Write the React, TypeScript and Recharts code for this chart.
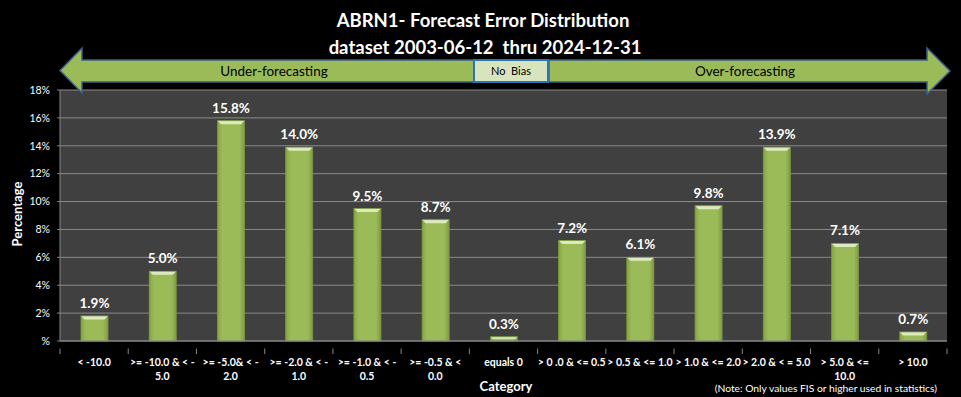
import React from 'react';
import { BarChart, Bar, XAxis, YAxis, CartesianGrid, LabelList } from 'recharts';

const categories = [
  '< -10.0',
  '>= -10.0 & < -\n5.0',
  '>= -5.0& < -\n2.0',
  '>= -2.0 & < -\n1.0',
  '>= -1.0 & < -\n0.5',
  '>= -0.5 & <\n0.0',
  'equals 0',
  '> 0 .0 & <= 0.5',
  '> 0.5 & <= 1.0',
  '> 1.0 & <= 2.0',
  '> 2.0 & < = 5.0',
  '> 5.0 & <=\n10.0',
  '> 10.0',
];
const values = [1.8, 5.0, 15.8, 13.9, 9.5, 8.7, 0.3, 7.2, 6.0, 9.7, 13.9, 7.0, 0.65];
const valueLabels = ['1.9%', '5.0%', '15.8%', '14.0%', '9.5%', '8.7%', '0.3%', '7.2%', '6.1%', '9.8%', '13.9%', '7.1%', '0.7%'];
const yTicks = [0, 2, 4, 6, 8, 10, 12, 14, 16, 18];

const data = categories.map((name, i) => ({ name, value: values[i], label: valueLabels[i] }));

const FONT = 'Lato, "Open Sans", sans-serif';
const BAND = 887 / categories.length;

const BevelBar = (props: any) => {
  const { x, y, width, height } = props;
  if (!height || height <= 0) return null;
  const b = Math.min(3.5, height / 2);
  return (
    <g>
      <rect x={x} y={y} width={width} height={height} fill="url(#barGrad)" />
      <polygon
        points={`${x},${y} ${x + width},${y} ${x + width - b},${y + b} ${x + b},${y + b}`}
        fill="#dde9c0"
      />
      <rect x={x} y={y} width={width} height={height} fill="none" stroke="#7c9a3e" strokeWidth={0.8} />
    </g>
  );
};

const CatTick = (props: any) => {
  const { x, y, payload, index } = props;
  const lines = String(payload.value).split('\n');
  const left = x - BAND / 2;
  return (
    <g>
      <line x1={left} y1={y - 0.5} x2={left} y2={y + 5} stroke="#868686" strokeWidth={1} />
      {index === categories.length - 1 && (
        <line x1={x + BAND / 2} y1={y - 0.5} x2={x + BAND / 2} y2={y + 5} stroke="#868686" strokeWidth={1} />
      )}
      {lines.map((l, i) => (
        <text
          key={i}
          x={x}
          y={y + 17 + i * 13.5}
          textAnchor="middle"
          fill="#ffffff"
          fontSize={10.5}
          fontWeight="bold"
          fontFamily={FONT}
          style={{ whiteSpace: 'pre' }}
        >
          {l}
        </text>
      ))}
    </g>
  );
};

export default function App() {
  return (
    <div
      style={{
        position: 'absolute',
        left: 0,
        top: 0,
        width: 961,
        height: 397,
        background: '#000000',
        overflow: 'hidden',
      }}
    >
      <BarChart
        width={961}
        height={397}
        data={data}
        margin={{ top: 90, right: 14, bottom: 0, left: 0 }}
        style={{ fontFamily: FONT }}
      >
        <CartesianGrid vertical={false} fill="#404040" stroke="#8a8a8a" strokeWidth={1} />
        <YAxis
          width={60}
          domain={[0, 18]}
          ticks={yTicks}
          tickFormatter={(v: number) => (v === 0 ? '%' : `${v}%`)}
          axisLine={{ stroke: '#868686' }}
          tickLine={{ stroke: '#868686' }}
          tickSize={3}
          tickMargin={7}
          tick={{ fill: '#ffffff', fontSize: 10.5, fontFamily: FONT }}
        />
        <XAxis
          dataKey="name"
          height={56}
          interval={0}
          axisLine={{ stroke: '#868686' }}
          tickLine={false}
          tick={<CatTick />}
        />
        <Bar dataKey="value" barSize={27} shape={<BevelBar />} isAnimationActive={false}>
          <LabelList
            dataKey="label"
            position="top"
            offset={8}
            fill="#ffffff"
            fontSize={13.5}
            fontWeight="bold"
            fontFamily={FONT}
          />
        </Bar>
      </BarChart>
      <svg
        width={961}
        height={397}
        style={{ position: 'absolute', left: 0, top: 0, pointerEvents: 'none' }}
      >
        <defs>
          <linearGradient id="barGrad" x1="0" y1="0" x2="1" y2="0">
            <stop offset="0%" stopColor="#86a646" />
            <stop offset="18%" stopColor="#9bbb59" />
            <stop offset="82%" stopColor="#9bbb59" />
            <stop offset="100%" stopColor="#7e9c40" />
          </linearGradient>
        </defs>
        <text x={483} y={27} textAnchor="middle" fill="#ffffff" fontSize={18.5} fontWeight="bold" fontFamily={FONT} style={{ whiteSpace: 'pre' }}>
          ABRN1- Forecast Error Distribution
        </text>
        <text x={485} y={54} textAnchor="middle" fill="#ffffff" fontSize={18.5} fontWeight="bold" fontFamily={FONT} style={{ whiteSpace: 'pre' }}>
          dataset 2003-06-12  thru 2024-12-31
        </text>
        <polygon
          points="60,70.5 82,48 82,60 474,60 474,82 82,82 82,93"
          fill="#9bbb59"
          stroke="#3a5f8b"
          strokeWidth={1.5}
          strokeLinejoin="miter"
        />
        <polygon
          points="549,60 927,60 927,48 950,71 927,94 927,82 549,82"
          fill="#9bbb59"
          stroke="#3a5f8b"
          strokeWidth={1.5}
        />
        <rect x={474} y={60} width={74} height={22} fill="#d7e4bd" stroke="#2a74b8" strokeWidth={2} />
        <text x={274} y={76} textAnchor="middle" fill="#000000" fontSize={13.5} fontFamily={FONT}>
          Under-forecasting
        </text>
        <text x={511} y={75} textAnchor="middle" fill="#000000" fontSize={11} fontFamily={FONT} style={{ whiteSpace: 'pre' }}>
          No  Bias
        </text>
        <text x={745} y={76} textAnchor="middle" fill="#000000" fontSize={13.5} fontFamily={FONT}>
          Over-forecasting
        </text>
        <text
          x={0}
          y={0}
          transform="translate(22,214) rotate(-90)"
          textAnchor="middle"
          fill="#ffffff"
          fontSize={13}
          fontWeight="bold"
          fontFamily={FONT}
        >
          Percentage
        </text>
        <text x={506} y={391} textAnchor="middle" fill="#ffffff" fontSize={13} fontWeight="bold" fontFamily={FONT}>
          Category
        </text>
        <text x={937} y={392} textAnchor="end" fill="#ffffff" fontSize={10.3} fontFamily={FONT}>
          (Note: Only values FIS or higher used in statistics)
        </text>
      </svg>
    </div>
  );
}
